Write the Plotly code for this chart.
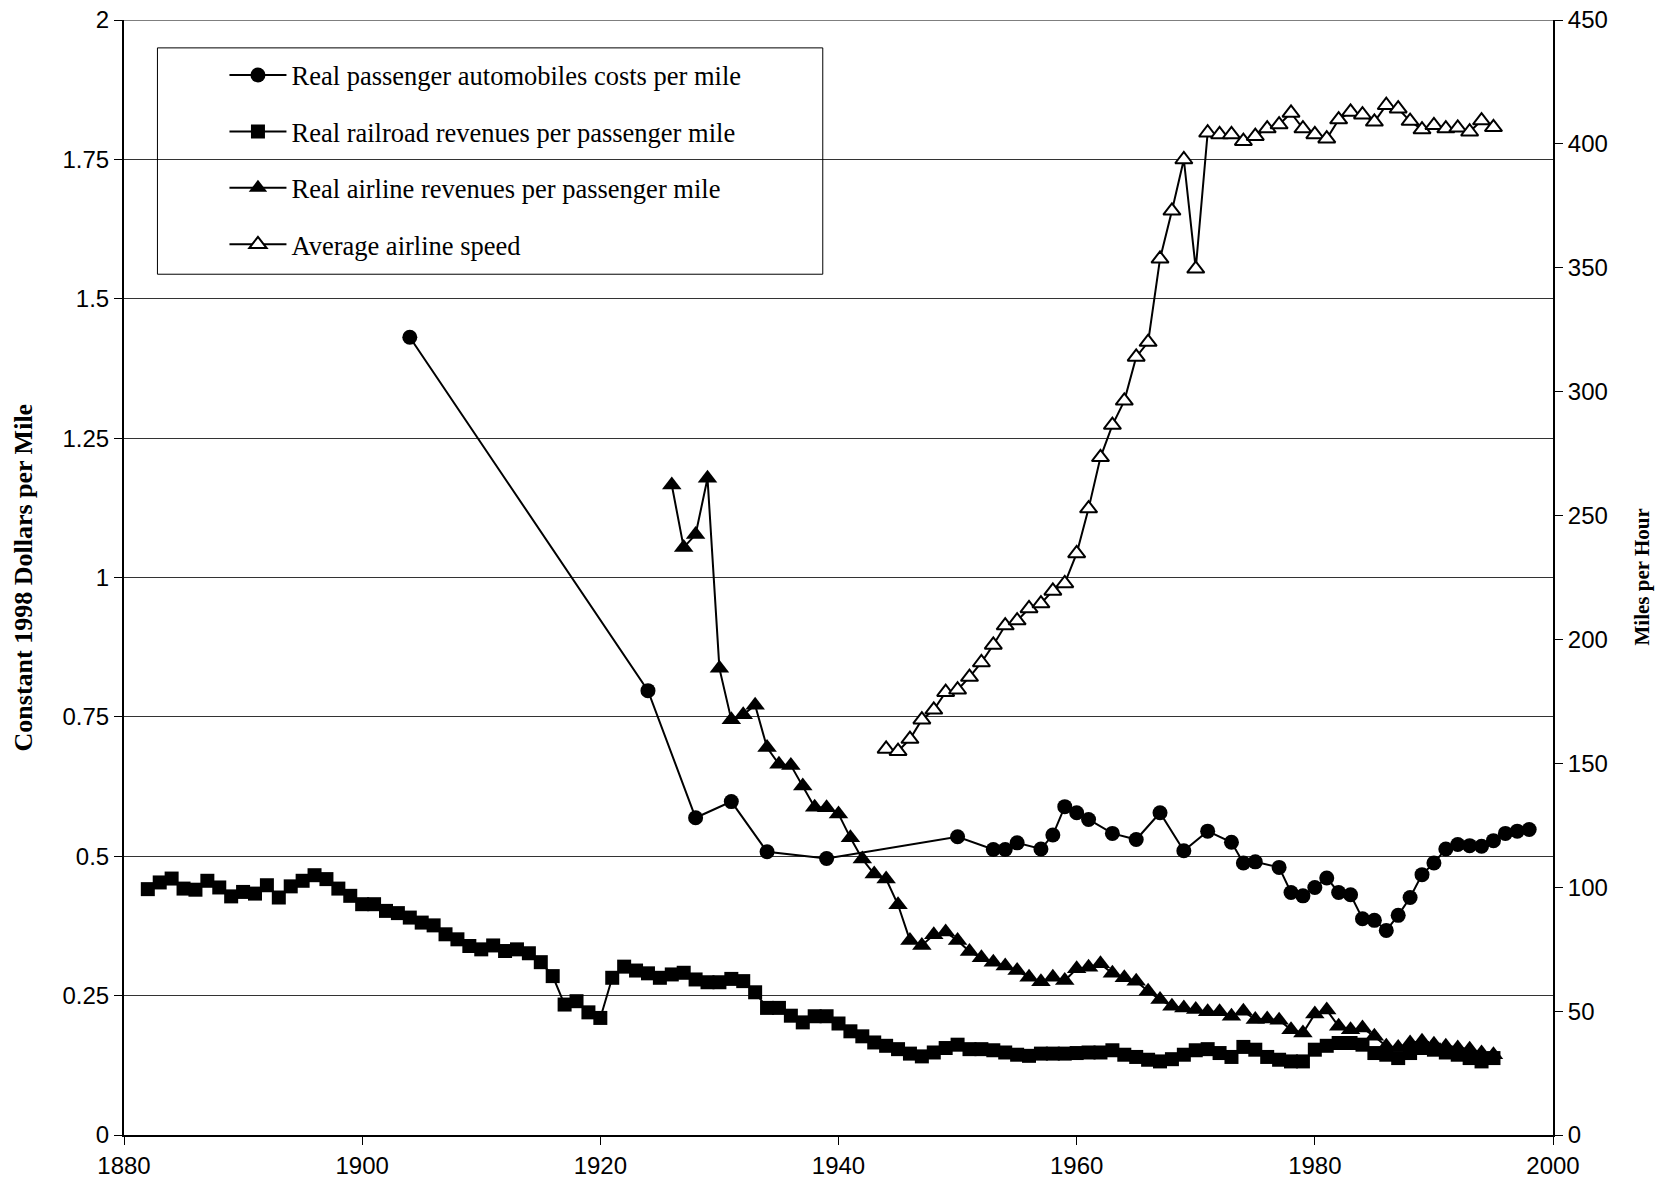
import plotly.graph_objects as go

# ---------------- data ----------------
auto_years = [1904, 1924, 1928, 1931, 1934, 1939, 1950, 1953, 1954, 1955, 1957, 1958,
              1959, 1960, 1961, 1963, 1965, 1967, 1969, 1971, 1973, 1974, 1975, 1977,
              1978, 1979, 1980, 1981, 1982, 1983, 1984, 1985, 1986, 1987, 1988, 1989,
              1990, 1991, 1992, 1993, 1994, 1995, 1996, 1997, 1998]
auto_cost = [1.431, 0.797, 0.569, 0.598, 0.508, 0.496, 0.535, 0.512, 0.512, 0.524, 0.513, 0.538,
             0.589, 0.578, 0.566, 0.541, 0.530, 0.578, 0.510, 0.545, 0.525, 0.488, 0.490, 0.480,
             0.435, 0.429, 0.444, 0.461, 0.435, 0.431, 0.388, 0.385, 0.367, 0.394, 0.426, 0.467,
             0.488, 0.513, 0.521, 0.519, 0.518, 0.528, 0.541, 0.545, 0.548]

rail_years = list(range(1882, 1996))
rail_rev = [0.441, 0.453, 0.460, 0.442, 0.440, 0.456, 0.444, 0.428, 0.436, 0.433,
            0.448, 0.426, 0.446, 0.456, 0.466, 0.459, 0.442, 0.429, 0.414, 0.414,
            0.402, 0.398, 0.390, 0.381, 0.376, 0.360, 0.351, 0.339, 0.333, 0.340,
            0.330, 0.333, 0.326, 0.310, 0.285, 0.234, 0.240, 0.220, 0.210, 0.282,
            0.302, 0.295, 0.290, 0.282, 0.288, 0.291, 0.279, 0.274, 0.274, 0.280,
            0.276, 0.256, 0.228, 0.228, 0.214, 0.202, 0.213, 0.213, 0.200, 0.186,
            0.177, 0.166, 0.160, 0.154, 0.146, 0.141, 0.148, 0.156, 0.162, 0.154,
            0.154, 0.152, 0.148, 0.144, 0.142, 0.146, 0.146, 0.146, 0.147, 0.148,
            0.148, 0.152, 0.144, 0.140, 0.135, 0.132, 0.136, 0.144, 0.152, 0.154,
            0.147, 0.140, 0.158, 0.153, 0.140, 0.135, 0.132, 0.132, 0.153, 0.160,
            0.165, 0.165, 0.162, 0.147, 0.144, 0.138, 0.147, 0.156, 0.153, 0.148,
            0.144, 0.138, 0.132, 0.138]

air_years = list(range(1926, 1996))
air_rev = [1.166, 1.054, 1.077, 1.178, 0.837, 0.745, 0.754, 0.771, 0.695, 0.665,
           0.663, 0.626, 0.588, 0.587, 0.576, 0.533, 0.495, 0.468, 0.459, 0.413,
           0.349, 0.340, 0.359, 0.364, 0.349, 0.329, 0.318, 0.310, 0.303, 0.295,
           0.283, 0.275, 0.283, 0.277, 0.298, 0.301, 0.307, 0.290, 0.282, 0.276,
           0.258, 0.243, 0.231, 0.228, 0.225, 0.221, 0.221, 0.213, 0.222, 0.207,
           0.208, 0.206, 0.189, 0.183, 0.217, 0.224, 0.195, 0.189, 0.192, 0.177,
           0.159, 0.157, 0.165, 0.168, 0.163, 0.159, 0.156, 0.154, 0.147, 0.144]

speed_years = list(range(1944, 1996))
speed_mph = [155.8, 154.9, 159.8, 167.6, 171.6, 178.7, 179.7, 184.8, 190.7, 197.8,
             205.6, 207.6, 212.5, 214.5, 219.6, 222.6, 234.7, 252.8, 273.5, 286.5,
             296.3, 314.0, 320.0, 353.6, 373.0, 393.7, 349.6, 404.5, 403.8, 403.8,
             401.1, 403.1, 406.2, 407.8, 412.5, 406.2, 403.8, 402.1, 409.8, 412.9,
             411.8, 408.9, 415.6, 414.2, 409.2, 405.8, 407.5, 406.2, 406.5, 404.9,
             409.4, 406.7]

series_names = ["Real passenger automobiles costs per mile",
                "Real railroad revenues per passenger mile",
                "Real airline revenues per passenger mile",
                "Average airline speed"]

left_tickvals = [0, 0.25, 0.5, 0.75, 1, 1.25, 1.5, 1.75, 2]
left_ticktext = ["0", "0.25", "0.5", "0.75", "1", "1.25", "1.5", "1.75", "2"]
right_tickvals = [0, 50, 100, 150, 200, 250, 300, 350, 400, 450]
x_tickvals = [1880, 1900, 1920, 1940, 1960, 1980, 2000]

left_title = "Constant 1998 Dollars per Mile"
right_title = "Miles per Hour"

# ---------------- figure ----------------
fig = go.Figure()
LW = 2
fig.add_trace(go.Scatter(x=auto_years, y=auto_cost, name=series_names[0], mode="lines+markers",
                         line=dict(color="black", width=LW),
                         marker=dict(symbol="circle", size=15, color="black"),
                         legendgroup="a"))
fig.add_trace(go.Scatter(x=rail_years, y=rail_rev, name=series_names[1], mode="lines+markers",
                         line=dict(color="black", width=LW),
                         marker=dict(symbol="square", size=14, color="black"),
                         legendgroup="b"))
fig.add_trace(go.Scatter(x=air_years, y=air_rev, name=series_names[2], mode="lines+markers",
                         line=dict(color="black", width=LW),
                         marker=dict(symbol="triangle-up", size=17, color="black"),
                         legendgroup="c"))
fig.add_trace(go.Scatter(x=speed_years, y=speed_mph, name=series_names[3], mode="lines+markers",
                         yaxis="y2",
                         line=dict(color="black", width=LW),
                         marker=dict(symbol="triangle-up", size=15, color="white",
                                     line=dict(color="black", width=2)),
                         legendgroup="d"))

tick_font = dict(family="Liberation Sans, Arial, sans-serif", size=24, color="black")
serif = "Liberation Serif, Times New Roman, serif"

fig.update_layout(
    width=1661, height=1190,
    margin=dict(l=124, r=108, t=20, b=55, autoexpand=False),
    paper_bgcolor="white", plot_bgcolor="white",
    showlegend=True,
    legend=dict(x=0.0703, y=0.972, xanchor="left", yanchor="top",
                bgcolor="rgba(0,0,0,0)", borderwidth=0,
                font=dict(family=serif, size=26.5, color="black"),
                traceorder="grouped", tracegroupgap=19, itemwidth=57),
    xaxis=dict(range=[1880, 2000], tickvals=x_tickvals, showgrid=False,
               showline=True, linecolor="black", linewidth=2,
               ticks="outside", ticklen=8, tickcolor="black", tickwidth=1,
               tickfont=tick_font, zeroline=False, automargin=False,
               ticklabeloverflow="allow"),
    yaxis=dict(range=[0, 2], tickvals=left_tickvals, ticktext=left_ticktext,
               showgrid=True, gridcolor="#333333", gridwidth=1,
               showline=True, linecolor="black", linewidth=2,
               ticks="outside", ticklen=8, tickcolor="black", tickwidth=1,
               tickfont=tick_font, zeroline=False, automargin=False,
               ticklabeloverflow="allow"),
    yaxis2=dict(range=[0, 450], tickvals=right_tickvals, overlaying="y", side="right",
                showgrid=False, showline=True, linecolor="black", linewidth=2,
                ticks="outside", ticklen=8, tickcolor="black", tickwidth=1,
                tickfont=tick_font, zeroline=False, automargin=False,
                ticklabeloverflow="allow"),
    shapes=[dict(type="rect", xref="paper", yref="paper", x0=0.0234, x1=0.489, y0=0.772, y1=0.975,
                 line=dict(color="black", width=1), fillcolor="rgba(0,0,0,0)", layer="above"),
            dict(type="line", xref="paper", yref="y", x0=0, x1=1, y0=2, y1=2,
                 line=dict(color="#555555", width=1.5))],
    annotations=[
        dict(text="<b>" + left_title + "</b>", xref="paper", yref="paper", x=-0.070, y=0.5,
             xanchor="center", yanchor="middle", textangle=-90, showarrow=False,
             font=dict(family=serif, size=26, color="black")),
        dict(text="<b>" + right_title + "</b>", xref="paper", yref="paper", x=1.0616, y=0.5,
             xanchor="center", yanchor="middle", textangle=-90, showarrow=False,
             font=dict(family=serif, size=21, color="black")),
    ],
)

fig.write_html("out.html",
               config={"displayModeBar": False},
               post_script="document.body.style.margin='0';document.body.style.overflow='hidden';")
